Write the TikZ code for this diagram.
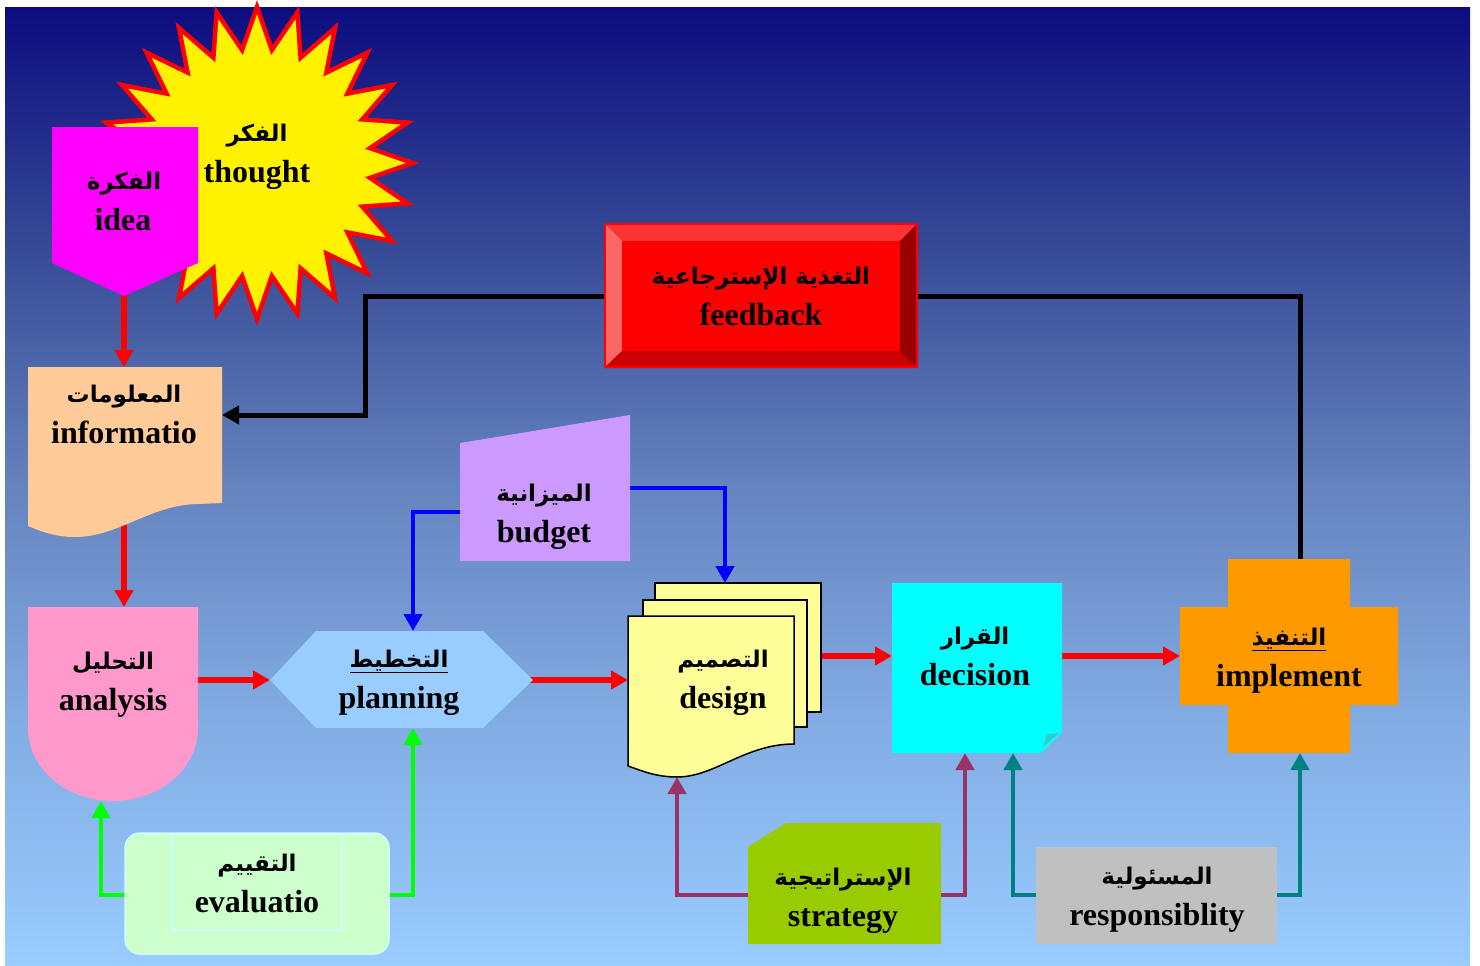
\documentclass[tikz,border=0pt]{standalone}
\usepackage{fontspec}
\setmainfont{Liberation Serif}
\newfontfamily\arfont[Script=Arabic]{DejaVu Sans}
\TeXXeTstate=1
\usetikzlibrary{arrows.meta,calc}
\definecolor{bgA}{RGB}{12,12,128}
\definecolor{bgB}{RGB}{55,75,150}
\definecolor{bgC}{RGB}{100,130,190}
\definecolor{bgD}{RGB}{130,172,228}
\definecolor{bgE}{RGB}{153,204,255}
\definecolor{ideaC}{HTML}{FF00FF}
\definecolor{infoC}{HTML}{FFCC99}
\definecolor{anaC}{HTML}{FF99CC}
\definecolor{planC}{HTML}{99CCFF}
\definecolor{budC}{HTML}{CC99FF}
\definecolor{desC}{HTML}{FFFF99}
\definecolor{decC}{HTML}{00FFFF}
\definecolor{foldC}{HTML}{33CCCC}
\definecolor{impC}{HTML}{FF9900}
\definecolor{evalC}{HTML}{CCFFCC}
\definecolor{evalB}{HTML}{CCFFFF}
\definecolor{strC}{HTML}{99CC00}
\definecolor{resC}{HTML}{C0C0C0}
\definecolor{purp}{HTML}{993366}
\definecolor{tealC}{HTML}{008080}
\definecolor{fbTop}{HTML}{FF3333}
\definecolor{fbLeft}{HTML}{FF6666}
\definecolor{fbBot}{HTML}{CC0000}
\definecolor{fbRight}{HTML}{990000}
\begin{document}
\begin{tikzpicture}[x=1pt,y=-1pt,
  lat/.style={anchor=base, inner sep=0pt, font=\bfseries\fontsize{32}{38}\selectfont},
  arb/.style={anchor=base, inner sep=0pt, font=\arfont\bfseries\fontsize{23}{27}\selectfont},
  conn/.style={line width=4.5pt, -{Triangle[width=18pt,length=17pt]}},
  rconn/.style={conn, red, line width=5.3pt},
  fbline/.style={line width=5pt, black},
  doc/.style={fill=desC, draw=black, line width=1.5pt}]
\useasboundingbox (0,0) rectangle (1480,966);
\shade[top color=bgA, bottom color=bgB] (5,8) rectangle (1470,250.5);
\shade[top color=bgB, bottom color=bgC] (5,250) rectangle (1470,480.5);
\shade[top color=bgC, bottom color=bgD] (5,480) rectangle (1470,720.5);
\shade[top color=bgD, bottom color=bgE] (5,720) rectangle (1470,966);

% ports
\coordinate (ideaS) at (124,290);
\coordinate (infoN) at (124,367);
\coordinate (infoS) at (124,525);
\coordinate (infoE) at (222,415);
\coordinate (anaN) at (124,607);
\coordinate (anaE) at (194,680);
\coordinate (anaS) at (101,801);
\coordinate (planW) at (270,680);
\coordinate (planE) at (528,680);
\coordinate (planN) at (413,631);
\coordinate (planS) at (413,728);
\coordinate (budW) at (464,512);
\coordinate (budE) at (626,488);
\coordinate (desN) at (725,583);
\coordinate (desW) at (628,680);
\coordinate (desE) at (817,656);
\coordinate (desS) at (677,777);
\coordinate (decW) at (892,656);
\coordinate (decE) at (1058,656);
\coordinate (decS1) at (965,753);
\coordinate (decS2) at (1013,753);
\coordinate (impW) at (1180,656);
\coordinate (impN) at (1300,564);
\coordinate (impS) at (1300,753);
\coordinate (fbE) at (914,296);
\coordinate (fbW) at (608,296);
\coordinate (evW) at (129,895);
\coordinate (evE) at (385,895);
\coordinate (stW) at (752,895);
\coordinate (stE) at (937,895);
\coordinate (reW) at (1040,895);
\coordinate (reE) at (1273,895);
\coordinate (starC) at (257,163);

% connectors
\draw[rconn] (ideaS) -- (infoN);
\draw[rconn] (infoS) -- (anaN);
\draw[rconn] (anaE) -- (planW);
\draw[rconn] (planE) -- (desW);
\draw[rconn] (desE) -- (decW);
\draw[rconn] (decE) -- (impW);
\draw[conn, blue] (budW) -| (planN);
\draw[conn, blue] (budE) -| (desN);
\draw[fbline] (impN) |- (fbE);
\draw[fbline, -{Triangle[width=18pt,length=17pt]}] (fbW) -- (365,296) -- (365,415) -- (infoE);
\draw[conn, green] (evW) -| (anaS);
\draw[conn, green] (evE) -| (planS);
\draw[conn, purp] (stW) -| (desS);
\draw[conn, purp] (stE) -| (decS1);
\draw[conn, tealC] (reW) -| (decS2);
\draw[conn, tealC] (reE) -| (impS);

% thought starburst
\filldraw[fill=yellow, draw=red, line width=4.5pt, line join=miter]
  ($(starC)+(90:156)$) \foreach \i in {1,...,47} { -- ($(starC)+({90+7.5*\i}:{isodd(\i) ? 114 : 156})$) } -- cycle;

% idea
\fill[ideaC] (52,127) -- (198,127) -- (198,263) -- (124,296) -- (52,263) -- cycle;
% information
\fill[infoC] (28,367) -- (222,367) -- (222,503) -- (197,504) .. controls (150,505) and (118,537) .. (75,537) .. controls (55,537) and (40,531) .. (28,526) -- cycle;
% analysis
\fill[anaC] (28,607) -- (198,607) -- (198,728) arc[start angle=0, end angle=180, x radius=85, y radius=73] -- cycle;
% planning
\fill[planC] (270,680) -- (316,631) -- (483,631) -- (533,680) -- (483,728) -- (316,728) -- cycle;
% budget
\fill[budC] (460,443) -- (630,415) -- (630,561) -- (460,561) -- cycle;
% design
\filldraw[doc] (655,583) rectangle (821,712);
\filldraw[doc] (643,600) rectangle (807,727);
\filldraw[doc] (628,616) -- (794,616) -- (794,744) .. controls (745,744) and (715,777) .. (677,777) .. controls (655,777) and (640,770) .. (628,766) -- cycle;
% decision
\fill[decC] (892,583) -- (1062,583) -- (1062,732) -- (1041,753) -- (892,753) -- cycle;
\fill[foldC] (1043,747) -- (1059,733) -- (1047,734) -- cycle;
% implement
\fill[impC] (1228,559) -- (1350,559) -- (1350,607) -- (1398,607) -- (1398,705) -- (1350,705) -- (1350,753) -- (1228,753) -- (1228,705) -- (1180,705) -- (1180,607) -- (1228,607) -- cycle;
% feedback
\fill[fbTop] (604,223) -- (918,223) -- (900,241) -- (622,241) -- cycle;
\fill[fbLeft] (604,223) -- (622,241) -- (622,351) -- (604,368) -- cycle;
\fill[fbBot] (604,368) -- (622,351) -- (900,351) -- (918,368) -- cycle;
\fill[fbRight] (918,223) -- (918,368) -- (900,351) -- (900,241) -- cycle;
\fill[red] (622,241) rectangle (900,351);
\draw[red, line width=2pt] (605,224) rectangle (917,367);
% evaluation
\filldraw[fill=evalC, draw=evalB, line width=1.5pt, rounded corners=15pt] (125,833) rectangle (389,954);
\draw[evalB, line width=1.2pt] (172,834) rectangle (342,930);
% strategy
\fill[strC] (748,847) -- (786,823) -- (941,823) -- (941,944) -- (748,944) -- cycle;
% responsibility
\fill[resC] (1036,847) rectangle (1277,944);

% texts
\node[arb] (thoughtA) at (257,141) {\beginR الفكر\endR};
\node[lat] (thoughtL) at (257,182) {thought};
\node[arb] (ideaA) at (124,189) {\beginR الفكرة\endR};
\node[lat] (ideaL) at (123,230) {idea};
\node[arb] (infoA) at (124,402) {\beginR المعلومات\endR};
\node[lat] (infoL) at (124,443) {informatio};
\node[arb] (anaA) at (113,669) {\beginR التحليل\endR};
\node[lat] (anaL) at (113,710) {analysis};
\node[arb] (planA) at (399,667) {\underline{\beginR التخطيط\endR}};
\node[lat] (planL) at (399,708) {planning};
\node[arb] (budA) at (544,501) {\beginR الميزانية\endR};
\node[lat] (budL) at (544,542) {budget};
\node[arb] (desA) at (723,667) {\beginR التصميم\endR};
\node[lat] (desL) at (723,708) {design};
\node[arb] (decA) at (975,644) {\beginR القرار\endR};
\node[lat] (decL) at (975,685) {decision};
\node[arb] (impA) at (1289,645) {\underline{\beginR التنفيذ\endR}};
\node[lat] (impL) at (1289,686) {implement};
\node[arb] (fbA) at (761,284) {\beginR التغذية الإسترجاعية\endR};
\node[lat] (fbL) at (761,325) {feedback};
\node[arb] (evA) at (257,871) {\beginR التقييم\endR};
\node[lat] (evL) at (257,912) {evaluatio};
\node[arb] (stA) at (843,885) {\beginR الإستراتيجية\endR};
\node[lat] (stL) at (843,926) {strategy};
\node[arb] (reA) at (1157,884) {\beginR المسئولية\endR};
\node[lat] (reL) at (1157,925) {responsiblity};
\end{tikzpicture}
\end{document}
